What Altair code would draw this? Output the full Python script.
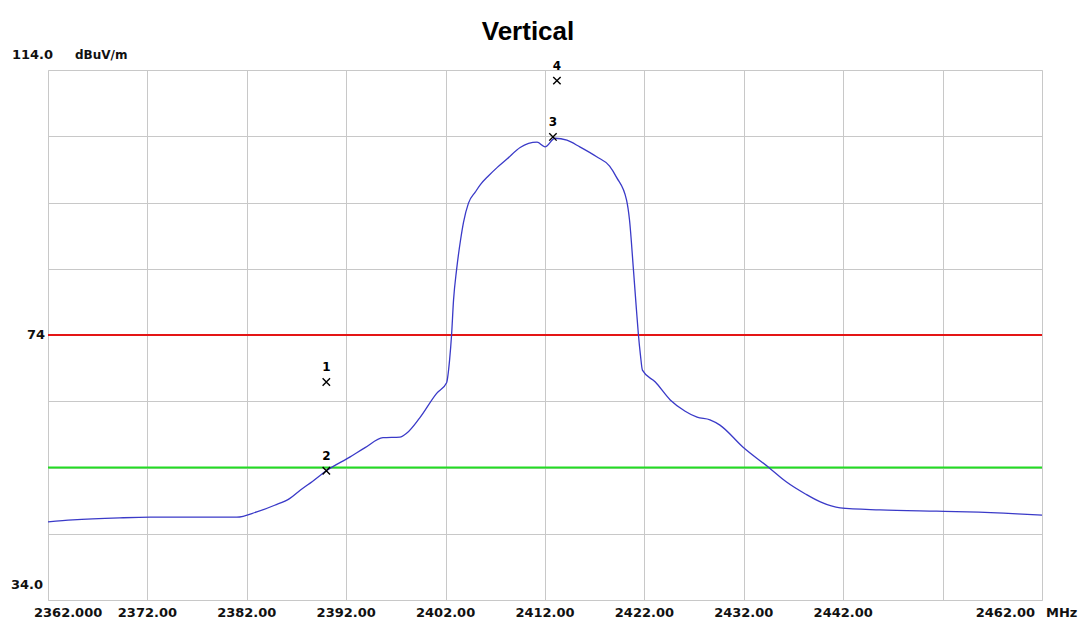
import altair as alt
import pandas as pd

# Spectrum trace (MHz, dBuV/m)
freq = [2362.0, 2364.5, 2369.2, 2372.3, 2375.6, 2381.0, 2383.0, 2384.8, 2386.3, 2387.4,
        2388.6, 2390.0, 2392.4, 2393.9, 2395.7, 2397.4, 2398.1, 2399.4, 2401.1, 2402.1,
        2402.4, 2402.6, 2402.8, 2403.1, 2403.5, 2403.8, 2404.3, 2405.0, 2405.5, 2406.3,
        2407.2, 2408.2, 2409.5, 2411.2,
        2412.0, 2413.0, 2414.2, 2415.5, 2417.2, 2418.5, 2419.2, 2420.2, 2420.5, 2420.9,
        2421.2, 2421.4, 2421.6, 2421.8, 2423.1, 2424.6, 2426.1, 2427.3, 2428.6, 2429.6,
        2431.9, 2434.6, 2436.3, 2438.2, 2439.7, 2441.7, 2445.7, 2451.4, 2454.5, 2459.5,
        2462.0]
level = [45.8, 46.1, 46.4, 46.5, 46.5, 46.5, 47.3, 48.3, 49.3, 50.6,
         51.9, 53.5, 55.6, 57.0, 58.5, 58.6, 59.2, 61.5, 65.2, 66.8,
         70.2, 74.0, 79.3, 83.8, 88.3, 91.0, 93.9, 95.6, 96.7, 98.0,
         99.3, 100.6, 102.3, 103.1,
         102.4, 103.7, 103.4, 102.4, 100.9, 99.5, 97.8, 94.4, 91.4, 83.8,
         77.8, 74.0, 71.0, 68.7, 66.9, 64.2, 62.5, 61.6, 61.2, 60.4,
         57.1, 53.9, 51.8, 50.0, 48.8, 47.9, 47.6, 47.4, 47.3, 47.0,
         46.8]

# Markers
marker_ids = ["1", "2", "3", "4"]
marker_freq = [2390.0, 2390.0, 2412.8, 2413.2]
marker_level = [66.9, 53.5, 103.9, 112.4]

# Limit lines
limit_levels = [74, 54]
limit_colors = ["#e41515", "#22dd22"]

# Axis tick values / labels
x_ticks = list(range(2362, 2463, 10))
y_ticks = list(range(34, 115, 10))
x_mid_labels = [2372, 2382, 2392, 2402, 2412, 2422, 2432, 2442]

W, H = 994, 530
XMIN, XMAX, YMIN, YMAX = 2362, 2462, 34, 114

xs = alt.Scale(domain=[XMIN, XMAX], nice=False, zero=False)
ys = alt.Scale(domain=[YMIN, YMAX], nice=False, zero=False)

trace = pd.DataFrame({"f": freq, "v": level})
markers = pd.DataFrame({"id": marker_ids, "f": marker_freq, "v": marker_level})
limits = pd.DataFrame({"v": limit_levels, "c": limit_colors})

FONT = "DejaVu Sans"

base_grid = alt.Chart(trace).mark_line(opacity=0).encode(
    x=alt.X("f:Q", scale=xs, axis=alt.Axis(values=x_ticks, grid=True, gridColor="#c8c8c8",
                                           gridWidth=1, labels=False, ticks=False,
                                           domain=False, title=None)),
    y=alt.Y("v:Q", scale=ys, axis=alt.Axis(values=y_ticks, grid=True, gridColor="#c8c8c8",
                                           gridWidth=1, labels=False, ticks=False,
                                           domain=False, title=None)),
)

line = alt.Chart(trace).mark_line(color="#3a3ac8", strokeWidth=1.3, interpolate="monotone").encode(
    x=alt.X("f:Q", scale=xs), y=alt.Y("v:Q", scale=ys)
)

rules = alt.Chart(limits).mark_rule(strokeWidth=2).encode(
    y=alt.Y("v:Q", scale=ys), color=alt.Color("c:N", scale=None)
)

pts = alt.Chart(markers).mark_point(
    shape="M-1,-1L1,1M-1,1L1,-1", size=55, color="black", strokeWidth=1.4, filled=False, opacity=1
).encode(x=alt.X("f:Q", scale=xs), y=alt.Y("v:Q", scale=ys))

pt_labels = alt.Chart(markers).mark_text(
    dy=-15, font=FONT, fontSize=12, fontWeight="bold", color="black"
).encode(x=alt.X("f:Q", scale=xs), y=alt.Y("v:Q", scale=ys), text="id:N")

# x labels
XL_Y = H + 13
xl_mid = alt.Chart(pd.DataFrame({"f": x_mid_labels,
                                 "t": [f"{v:.2f}" for v in x_mid_labels]})).mark_text(
    font=FONT, fontSize=13, fontWeight="bold", baseline="middle", color="#111"
).encode(x=alt.X("f:Q", scale=xs), y=alt.value(XL_Y), text="t:N")

xl_first = alt.Chart(pd.DataFrame({"f": [XMIN], "t": ["2362.000"]})).mark_text(
    font=FONT, fontSize=13, fontWeight="bold", baseline="middle", align="left", dx=-14, color="#111"
).encode(x=alt.X("f:Q", scale=xs), y=alt.value(XL_Y), text="t:N")

xl_last = alt.Chart(pd.DataFrame({"f": [XMAX], "t": ["2462.00"]})).mark_text(
    font=FONT, fontSize=13, fontWeight="bold", baseline="middle", align="right", dx=-7, color="#111"
).encode(x=alt.X("f:Q", scale=xs), y=alt.value(XL_Y), text="t:N")

xl_unit = alt.Chart(pd.DataFrame({"f": [XMAX], "t": ["MHz"]})).mark_text(
    font=FONT, fontSize=13, fontWeight="bold", baseline="middle", align="left", dx=4, color="#111"
).encode(x=alt.X("f:Q", scale=xs), y=alt.value(XL_Y), text="t:N")

# y labels
yl_top = alt.Chart(pd.DataFrame({"v": [YMAX], "t": ["114.0"]})).mark_text(
    font=FONT, fontSize=13, fontWeight="bold", baseline="middle", align="right", dy=-15, color="#111"
).encode(x=alt.value(5), y=alt.Y("v:Q", scale=ys), text="t:N")

yl_unit = alt.Chart(pd.DataFrame({"v": [YMAX], "t": ["dBuV/m"]})).mark_text(
    font=FONT, fontSize=12, fontWeight="bold", baseline="middle", align="left", dy=-15, color="#111"
).encode(x=alt.value(27), y=alt.Y("v:Q", scale=ys), text="t:N")

yl_74 = alt.Chart(pd.DataFrame({"v": [74], "t": ["74"]})).mark_text(
    font=FONT, fontSize=13, fontWeight="bold", baseline="middle", align="right", color="#111"
).encode(x=alt.value(-3), y=alt.Y("v:Q", scale=ys), text="t:N")

yl_bot = alt.Chart(pd.DataFrame({"v": [YMIN], "t": ["34.0"]})).mark_text(
    font=FONT, fontSize=13, fontWeight="bold", baseline="middle", align="right", dy=-15, color="#111"
).encode(x=alt.value(-5), y=alt.Y("v:Q", scale=ys), text="t:N")

chart = alt.layer(
    base_grid, rules, line, pts, pt_labels,
    xl_mid, xl_first, xl_last, xl_unit, yl_top, yl_unit, yl_74, yl_bot
).properties(
    width=W, height=H,
    title=alt.TitleParams("Vertical", font="Liberation Sans", fontSize=26, fontWeight="bold",
                          anchor="middle", dx=-17, offset=4, color="black"),
    autosize=alt.AutoSizeParams(type="none"),
    padding={"left": 48, "top": 70, "right": 36, "bottom": 22},
).configure_view(stroke="#707070", strokeWidth=2).configure(background="white")

chart.save("out.html", embed_options={"renderer": "svg", "actions": False})
